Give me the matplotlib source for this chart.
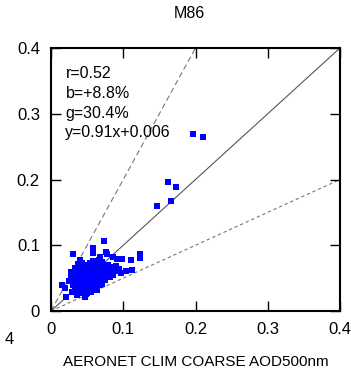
"""Scatter of model vs AERONET coarse AOD (M86 panel)."""
import numpy as np
import matplotlib
matplotlib.use('Agg')
import matplotlib.pyplot as plt

plt.rcParams['font.family'] = ['Liberation Sans', 'DejaVu Sans']

# AERONET climatology coarse AOD500 (x) vs model AOD (y)
aeronet_aod = [
    0.015, 0.019, 0.021, 0.029, 0.036, 0.047, 0.050,
    0.030, 0.040, 0.043, 0.058, 0.058, 0.073, 0.076, 0.078, 0.068, 0.086,
    0.091, 0.098, 0.111, 0.123, 0.123, 0.093, 0.104, 0.112,
    0.064, 0.068, 0.075, 0.082, 0.086, 0.078,
    0.025, 0.027, 0.028, 0.030, 0.031, 0.032, 0.033, 0.034, 0.035, 0.036,
    0.036, 0.037, 0.038, 0.039, 0.040, 0.040, 0.041, 0.042, 0.042, 0.043,
    0.044, 0.044, 0.045, 0.045, 0.046, 0.047, 0.047, 0.048, 0.049, 0.049,
    0.050, 0.050, 0.051, 0.052, 0.052, 0.053, 0.054, 0.054, 0.055, 0.055,
    0.056, 0.057, 0.057, 0.058, 0.059, 0.060, 0.060, 0.061, 0.062, 0.063,
    0.063, 0.064, 0.065, 0.066, 0.067, 0.068, 0.069, 0.070, 0.071, 0.072,
    0.073, 0.074, 0.076, 0.077, 0.079, 0.080, 0.082, 0.084, 0.085, 0.088,
    0.090, 0.094, 0.097,
    0.030, 0.033, 0.038, 0.041, 0.046, 0.048, 0.053, 0.058, 0.062, 0.066,
    0.070, 0.034, 0.039, 0.043, 0.048, 0.051, 0.056, 0.059, 0.061, 0.064,
    0.067, 0.070, 0.052, 0.045, 0.041, 0.037,
    0.147, 0.166, 0.162, 0.173, 0.197, 0.210,
]
model_aod = [
    0.040, 0.035, 0.021, 0.029, 0.024, 0.021, 0.027,
    0.087, 0.078, 0.073, 0.096, 0.088, 0.106, 0.090, 0.087, 0.082, 0.082,
    0.079, 0.079, 0.078, 0.087, 0.081, 0.061, 0.061, 0.062,
    0.035, 0.040, 0.047, 0.052, 0.055, 0.059,
    0.045, 0.052, 0.060, 0.040, 0.048, 0.055, 0.035, 0.063, 0.044, 0.050,
    0.031, 0.068, 0.057, 0.038, 0.046, 0.028, 0.053, 0.061, 0.034, 0.042,
    0.049, 0.070, 0.056, 0.030, 0.037, 0.045, 0.064, 0.052, 0.026, 0.040,
    0.059, 0.033, 0.047, 0.067, 0.054, 0.038, 0.043, 0.073, 0.050, 0.029,
    0.061, 0.035, 0.056, 0.045, 0.069, 0.052, 0.039, 0.064, 0.048, 0.058,
    0.032, 0.043, 0.072, 0.054, 0.062, 0.047, 0.066, 0.056, 0.041, 0.060,
    0.051, 0.068, 0.063, 0.055, 0.070, 0.064, 0.058, 0.067, 0.062, 0.066,
    0.069, 0.064, 0.058,
    0.058, 0.066, 0.072, 0.064, 0.058, 0.070, 0.062, 0.076, 0.074, 0.078,
    0.075, 0.053, 0.048, 0.055, 0.044, 0.041, 0.040, 0.047, 0.055, 0.050,
    0.044, 0.049, 0.047, 0.050, 0.058, 0.043,
    0.160, 0.167, 0.196, 0.189, 0.269, 0.265,
]

stats_lines = ['r=0.52', 'b=+8.8%', 'g=30.4%', 'y=0.91x+0.006']
ticks = [0, 0.1, 0.2, 0.3, 0.4]
tick_labels = ['0', '0.1', '0.2', '0.3', '0.4']

fig = plt.figure(figsize=(3.51, 3.80), dpi=100)
ax = fig.add_axes([51 / 351, 69 / 380, 289 / 351, 263 / 380])

lim = 0.4
xx = np.array([0, lim])
ax.plot(xx, xx, color='#555555', lw=0.8, zorder=1)
ax.plot(xx, 2 * xx, color='#777777', lw=0.8, ls=(0, (5, 3)), zorder=1)
ax.plot(xx, 0.5 * xx, color='#777777', lw=0.8, ls=(0, (3, 2.5)), zorder=1)

ax.plot(aeronet_aod, model_aod, 's', color='#0000ff', ms=4.0, mew=0,
        zorder=2, clip_on=False)

ax.set_xlim(0, lim)
ax.set_ylim(0, lim)
ax.set_xticks(ticks)
ax.set_xticklabels(tick_labels)
ax.set_yticks(ticks)
ax.set_yticklabels(tick_labels)
ax.tick_params(direction='in', length=7, width=1, top=True, right=True,
               labelsize=12, pad=8)
for s in ax.spines.values():
    s.set_linewidth(1.5)

ax.set_xlabel('AERONET CLIM COARSE AOD500nm', fontsize=11, labelpad=13)
fig.text(0.5 + 14 / 351, 1 - 14 / 380, 'M86', fontsize=11.5,
         ha='center', va='center')

ax.text(0.02, 0.372, '\n'.join(stats_lines), fontsize=11.5, va='top',
        ha='left', linespacing=1.38)

# leftover tick label from neighbouring panel
fig.text(5 / 351, 1 - 340 / 380, '4', fontsize=12, va='center', ha='left')

fig.savefig('out.png', dpi=100)
